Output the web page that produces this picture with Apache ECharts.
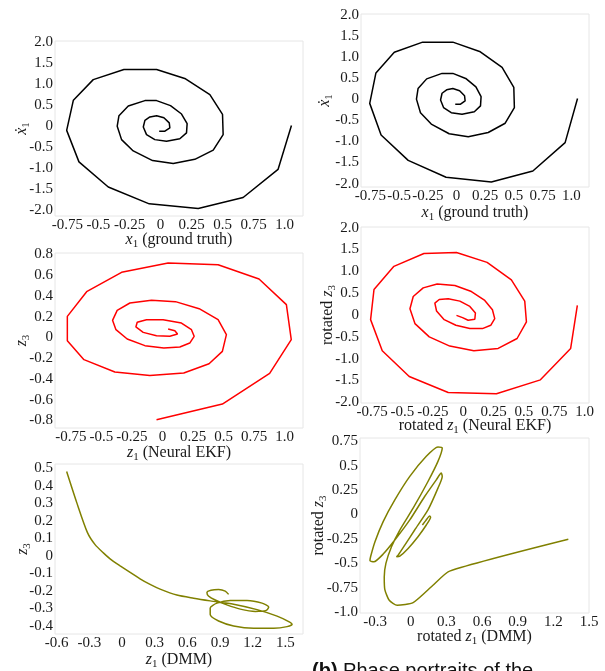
<!DOCTYPE html>
<html>
<head>
<meta charset="utf-8">
<script src="https://cdn.jsdelivr.net/npm/echarts@6/dist/echarts.min.js"></script>
<style>
html, body { margin: 0; padding: 0; background: #fff; }
#chart { width: 605px; height: 671px; }
</style>
</head>
<body>
<div id="chart"></div>
<script>
// ground truth: x1 vs dx1
var gtX = [1.054, 0.946, 0.665, 0.303, -0.091, -0.421, -0.657, -0.756, -0.702, -0.542, -0.295, -0.032, 0.201, 0.397, 0.499, 0.504, 0.424, 0.276, 0.102, -0.064, -0.220, -0.314, -0.349, -0.335, -0.260, -0.126, -0.032, 0.080, 0.169, 0.214, 0.209, 0.155, 0.048, -0.046, -0.113, -0.139, -0.126, -0.086, -0.032, 0.027, 0.070, 0.075, 0.035, -0.011];
var gtY = [0.016, -1.03, -1.70, -1.96, -1.85, -1.45, -0.85, -0.10, 0.62, 1.11, 1.35, 1.35, 1.13, 0.75, 0.28, -0.20, -0.57, -0.79, -0.89, -0.82, -0.59, -0.32, 0.00, 0.25, 0.48, 0.61, 0.61, 0.49, 0.29, 0.06, -0.16, -0.30, -0.36, -0.32, -0.20, -0.02, 0.14, 0.22, 0.25, 0.20, 0.08, -0.04, -0.12, -0.12];

// Neural EKF: z1 vs z3
var ekfX = [-0.049, 0.490, 0.877, 1.054, 1.014, 0.790, 0.455, 0.046, -0.335, -0.621, -0.779, -0.779, -0.643, -0.390, -0.104, 0.174, 0.381, 0.490, 0.523, 0.455, 0.300, 0.106, -0.090, -0.267, -0.371, -0.409, -0.381, -0.289, -0.144, 0.011, 0.142, 0.223, 0.259, 0.237, 0.155, 0.005, -0.131, -0.207, -0.218, -0.158, -0.049, 0.060, 0.123, 0.101, 0.046];
var ekfY = [-0.794, -0.643, -0.347, -0.022, 0.315, 0.562, 0.700, 0.716, 0.627, 0.440, 0.202, -0.032, -0.215, -0.334, -0.369, -0.344, -0.254, -0.135, 0.026, 0.170, 0.276, 0.344, 0.357, 0.331, 0.260, 0.164, 0.074, -0.016, -0.080, -0.103, -0.093, -0.055, 0.010, 0.074, 0.138, 0.170, 0.170, 0.145, 0.100, 0.048, 0.016, 0.010, 0.032, 0.064, 0.080];

// Neural EKF, rotated
var ekfRotX = [0.940, 0.885, 0.636, 0.274, -0.123, -0.444, -0.666, -0.762, -0.734, -0.570, -0.323, -0.055, 0.197, 0.397, 0.507, 0.521, 0.444, 0.288, 0.088, -0.110, -0.279, -0.397, -0.438, -0.411, -0.329, -0.214, -0.068, 0.068, 0.178, 0.241, 0.260, 0.227, 0.159, 0.055, -0.060, -0.156, -0.219, -0.233, -0.197, -0.123, -0.027, 0.055, 0.101, 0.096, 0.041, -0.005, -0.055];
var ekfRotY = [0.220, -0.765, -1.485, -1.803, -1.773, -1.409, -0.818, -0.106, 0.583, 1.114, 1.409, 1.432, 1.205, 0.803, 0.318, -0.159, -0.538, -0.765, -0.818, -0.712, -0.500, -0.197, 0.144, 0.424, 0.621, 0.712, 0.674, 0.538, 0.333, 0.121, -0.083, -0.235, -0.311, -0.311, -0.235, -0.106, 0.091, 0.273, 0.356, 0.371, 0.318, 0.197, 0.045, -0.098, -0.121, -0.061, -0.008];

// DMM: z1 vs z3
var dmmX = [-0.508, -0.416, -0.318, -0.247, -0.171, -0.094, -0.017, 0.075, 0.166, 0.258, 0.350, 0.504, 0.657, 0.810, 1.025, 1.240, 1.424, 1.540, 1.562, 1.516, 1.393, 1.209, 1.025, 0.887, 0.810, 0.810, 0.872, 0.994, 1.148, 1.286, 1.347, 1.325, 1.224, 1.086, 0.963, 0.856, 0.794, 0.780, 0.817, 0.887, 0.948, 0.979];
var dmmY = [0.481, 0.305, 0.134, 0.064, 0.017, -0.025, -0.057, -0.094, -0.131, -0.163, -0.190, -0.224, -0.242, -0.257, -0.276, -0.307, -0.344, -0.378, -0.391, -0.404, -0.413, -0.413, -0.400, -0.372, -0.335, -0.298, -0.270, -0.255, -0.255, -0.270, -0.292, -0.311, -0.317, -0.304, -0.280, -0.252, -0.229, -0.209, -0.196, -0.192, -0.201, -0.220];

// DMM, rotated
var dmmRotX = [1.326, 0.327, 0.187, 0.020, -0.114, -0.181, -0.218, -0.223, -0.209, -0.162, -0.092, 0.020, 0.145, 0.229, 0.265, 0.229, 0.131, -0.008, -0.134, -0.232, -0.301, -0.338, -0.343, -0.310, -0.232, -0.134, -0.008, 0.117, 0.215, 0.257, 0.265, 0.229, 0.145, 0.033, -0.050, -0.106, -0.120, -0.092, -0.022, 0.061, 0.131, 0.167, 0.159, 0.126, 0.098];
var dmmRotY = [-0.255, -0.581, -0.726, -0.904, -0.931, -0.880, -0.770, -0.640, -0.502, -0.331, -0.160, 0.064, 0.338, 0.544, 0.682, 0.692, 0.596, 0.390, 0.149, -0.073, -0.279, -0.434, -0.475, -0.485, -0.406, -0.262, -0.056, 0.184, 0.355, 0.424, 0.390, 0.270, 0.047, -0.159, -0.314, -0.417, -0.434, -0.427, -0.348, -0.228, -0.108, -0.029, -0.015, -0.063, -0.108];

// tick labels
var ticksX025 = ['-0.75', '-0.5', '-0.25', '0', '0.25', '0.5', '0.75', '1.0'];
var ticksY2 = ['-2.0', '-1.5', '-1.0', '-0.5', '0', '0.5', '1.0', '1.5', '2.0'];
var ticksYEkf = ['-0.8', '-0.6', '-0.4', '-0.2', '0', '0.2', '0.4', '0.6', '0.8'];
var ticksXDmm = ['-0.6', '-0.3', '0', '0.3', '0.6', '0.9', '1.2', '1.5'];
var ticksYDmm = ['-0.4', '-0.3', '-0.2', '-0.1', '0', '0.1', '0.2', '0.3', '0.4', '0.5'];
var ticksXDmmRot = ['-0.3', '0', '0.3', '0.6', '0.9', '1.2', '1.5'];
var ticksYDmmRot = ['-1.0', '-0.75', '-0.5', '-0.25', '0', '0.25', '0.5', '0.75'];

var serif = 'Liberation Serif';
var txt = '#1a1a1a';
var mathRich = {
  i: { fontFamily: serif, fontStyle: 'italic', fontSize: 16, color: txt },
  s: { fontFamily: serif, fontSize: 11, color: txt, lineHeight: 21, verticalAlign: 'bottom' }
};

function zip(xs, ys) {
  return xs.map(function (x, k) { return [x, ys[k]]; });
}

function axis(gi, min, max, ticks, name, gap) {
  return {
    gridIndex: gi, type: 'value', min: min, max: max,
    name: name, nameLocation: 'middle', nameGap: gap, nameMoveOverlap: false,
    nameTextStyle: { fontFamily: serif, fontSize: 16, color: txt, rich: mathRich },
    axisLine: { show: false }, axisTick: { show: false }, splitLine: { show: false },
    axisLabel: {
      customValues: ticks.map(Number),
      formatter: function (v) {
        for (var k = 0; k < ticks.length; k++) {
          if (Math.abs(Number(ticks[k]) - v) < 1e-9) return ticks[k];
        }
        return '';
      },
      margin: 2, fontFamily: serif, fontSize: 15, color: txt
    }
  };
}

var panels = [
  { g: [55, 41, 248, 175], xr: [-0.85, 1.147], yr: [-2.14, 2.03], xt: ticksX025, yt: ticksY2,
    xn: '{i|x}{s|1} (ground truth)', yn: '{i|ẋ}{s|1}', xg: 13, yg: 23, d: zip(gtX, gtY), c: '#000000', sm: false },
  { g: [55, 253, 248, 175], xr: [-0.88, 1.15], yr: [-0.874, 0.813], xt: ticksX025, yt: ticksYEkf,
    xn: '{i|z}{s|1} (Neural EKF)', yn: '{i|z}{s|3}', xg: 14, yg: 23, d: zip(ekfX, ekfY), c: '#ff0000', sm: false },
  { g: [55, 464, 248, 174], xr: [-0.615, 1.662], yr: [-0.446, 0.524], xt: ticksXDmm, yt: ticksYDmm,
    xn: '{i|z}{s|1} (DMM)', yn: '{i|z}{s|3}', xg: 15, yg: 22, d: zip(dmmX, dmmY), c: '#808000', sm: 0.25 },
  { g: [361, 14, 228, 173], xr: [-0.832, 1.154], yr: [-2.08, 2.016], xt: ticksX025, yt: ticksY2,
    xn: '{i|x}{s|1} (ground truth)', yn: '{i|ẋ}{s|1}', xg: 15, yg: 26, d: zip(gtX, gtY), c: '#000000', sm: false },
  { g: [361, 227, 228, 176], xr: [-0.841, 1.036], yr: [-2.015, 2.015], xt: ticksX025, yt: ticksY2,
    xn: 'rotated {i|z}{s|1} (Neural EKF)', yn: 'rotated {i|z}{s|3}', xg: 12, yg: 23, d: zip(ekfRotX, ekfRotY), c: '#ff0000', sm: false },
  { g: [360, 438, 229, 175], xr: [-0.427, 1.5], yr: [-1.01, 0.784], xt: ticksXDmmRot, yt: ticksYDmmRot,
    xn: 'rotated {i|z}{s|1} (DMM)', yn: 'rotated {i|z}{s|3}', xg: 13, yg: 31, d: zip(dmmRotX, dmmRotY), c: '#808000', sm: 0.2 }
];

var grids = [], xAxes = [], yAxes = [], series = [];
panels.forEach(function (p, i) {
  grids.push({ left: p.g[0], top: p.g[1], width: p.g[2], height: p.g[3],
    show: true, borderColor: '#e6e6e6', borderWidth: 1, backgroundColor: 'transparent' });
  xAxes.push(axis(i, p.xr[0], p.xr[1], p.xt, p.xn, p.xg));
  yAxes.push(axis(i, p.yr[0], p.yr[1], p.yt, p.yn, p.yg));
  series.push({ type: 'line', xAxisIndex: i, yAxisIndex: i, data: p.d, showSymbol: false,
    smooth: p.sm, lineStyle: { color: p.c, width: 1.5 }, itemStyle: { color: p.c },
    silent: true, animation: false, clip: true });
});

var chart = echarts.init(document.getElementById('chart'));
chart.setOption({
  backgroundColor: '#ffffff',
  animation: false,
  title: {
    left: 312, top: 661, padding: 0,
    text: '{b|(b)} Phase portraits of the',
    textStyle: {
      fontFamily: 'Liberation Sans', fontSize: 20, fontWeight: 'normal', color: '#111',
      rich: { b: { fontFamily: 'Liberation Sans', fontSize: 20, fontWeight: 'bold', color: '#111' } }
    }
  },
  grid: grids,
  xAxis: xAxes,
  yAxis: yAxes,
  series: series
});
</script>
</body>
</html>
